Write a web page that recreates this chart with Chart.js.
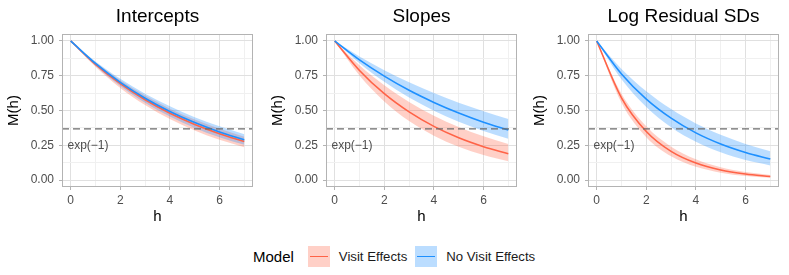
<!DOCTYPE html>
<html>
<head>
  <title>M(h) decay</title>
  <script src="https://cdn.jsdelivr.net/npm/chart.js"></script>
  <style>
    body { margin: 0; background: #fff; font-family: "Liberation Sans", Arial, sans-serif; }
    #wrap { position: relative; width: 789px; height: 275px; }
    .panel { position: absolute; top: 0; width: 263px; height: 232px; }
    #legend { position: absolute; top: 245px; left: 253px; height: 22px; display: flex; align-items: center; color: #1a1a1a; }
    #legend .ttl { font-size: 15px; color: #000; margin-right: 14px; }
    #legend .key { position: relative; width: 22px; height: 21px; margin-right: 9px; }
    #legend .key i { position: absolute; left: 2px; right: 2px; top: 10px; height: 1.6px; }
    #legend .lab { font-size: 13.2px; margin-right: 8px; }
  </style>
</head>
<body>
  <div id="wrap">
    <div class="panel" style="left:0px"><canvas id="c1"></canvas></div>
    <div class="panel" style="left:264px"><canvas id="c2"></canvas></div>
    <div class="panel" style="left:526px"><canvas id="c3"></canvas></div>
    <div id="legend">
      <span class="ttl">Model</span>
      <span class="key" style="background:rgba(255,99,71,0.3)"><i style="background:#ff6347"></i></span>
      <span class="lab">Visit Effects</span>
      <span class="key" style="background:rgba(30,144,255,0.3)"><i style="background:#1e90ff"></i></span>
      <span class="lab">No Visit Effects</span>
    </div>
  </div>
<script>
  // lag h
  var hVals = [0, 1, 2, 3, 4, 5, 6, 7];

  // Intercepts
  var intVisitMid   = [1, 0.832, 0.693, 0.577, 0.480, 0.400, 0.333, 0.277];
  var intVisitLo    = [1, 0.814, 0.662, 0.539, 0.438, 0.357, 0.290, 0.236];
  var intVisitHi    = [1, 0.846, 0.717, 0.607, 0.513, 0.435, 0.368, 0.311];
  var intNoVisitMid = [1, 0.838, 0.702, 0.588, 0.493, 0.413, 0.346, 0.290];
  var intNoVisitLo  = [1, 0.822, 0.676, 0.555, 0.456, 0.375, 0.308, 0.253];
  var intNoVisitHi  = [1, 0.853, 0.728, 0.621, 0.530, 0.452, 0.386, 0.329];

  // Slopes
  var slpVisitMid   = [1, 0.788, 0.621, 0.490, 0.386, 0.304, 0.240, 0.189];
  var slpVisitLo    = [1, 0.751, 0.565, 0.424, 0.319, 0.240, 0.180, 0.135];
  var slpVisitHi    = [1, 0.825, 0.681, 0.562, 0.463, 0.382, 0.315, 0.260];
  var slpNoVisitMid = [1, 0.864, 0.747, 0.645, 0.558, 0.482, 0.416, 0.360];
  var slpNoVisitLo  = [1, 0.840, 0.706, 0.593, 0.499, 0.419, 0.352, 0.296];
  var slpNoVisitHi  = [1, 0.889, 0.790, 0.703, 0.625, 0.555, 0.494, 0.439];

  // Log Residual SDs
  var sdVisitMid   = [1, 0.591, 0.349, 0.206, 0.122, 0.072, 0.043, 0.025];
  var sdVisitLo    = [1, 0.555, 0.308, 0.171, 0.095, 0.053, 0.029, 0.016];
  var sdVisitHi    = [1, 0.621, 0.386, 0.240, 0.149, 0.092, 0.057, 0.036];
  var sdNoVisitMid = [1, 0.763, 0.582, 0.445, 0.339, 0.259, 0.198, 0.151];
  var sdNoVisitLo  = [1, 0.724, 0.525, 0.380, 0.275, 0.199, 0.144, 0.105];
  var sdNoVisitHi  = [1, 0.799, 0.638, 0.510, 0.407, 0.325, 0.260, 0.207];

  var refLevel = 0.3679; // exp(-1)
  var xLimits = [-0.35, 7.35];
  var yLimits = [-0.05, 1.05];

  var RED = "#ff6347", RED_FILL = "rgba(255,99,71,0.3)";
  var BLUE = "#1e90ff", BLUE_FILL = "rgba(30,144,255,0.3)";
  var FONT = "'Liberation Sans', Arial, sans-serif";

  function pts(ys) {
    return hVals.map(function (h, i) { return { x: h, y: ys[i] }; });
  }

  var panelDeco = {
    id: "panelDeco",
    afterDatasetsDraw: function (chart) {
      var ctx = chart.ctx, a = chart.chartArea;
      var xs = chart.scales.x, ys = chart.scales.y;
      ctx.save();
      // annotation
      ctx.fillStyle = "#4d4d4d";
      ctx.font = "12px " + FONT;
      ctx.textAlign = "left";
      ctx.textBaseline = "middle";
      ctx.fillText("exp(\u22121)", xs.getPixelForValue(-0.13), ys.getPixelForValue(0.25));
      // panel border
      ctx.strokeStyle = "#b3b3b3";
      ctx.lineWidth = 1;
      ctx.strokeRect(a.left + 0.5, a.top + 0.5, a.right - a.left - 1, a.bottom - a.top - 1);
      ctx.restore();
      // title
      ctx.save();
      ctx.fillStyle = "#000";
      ctx.font = "19px " + FONT;
      ctx.textAlign = "center";
      ctx.textBaseline = "middle";
      ctx.fillText(chart.options.panelTitle, (a.left + a.right) / 2, 17);
      ctx.restore();
    }
  };

  function makePanel(id, title, v, nv) {
    var lineBase = { pointRadius: 0, borderWidth: 1.6, fill: false, cubicInterpolationMode: "monotone" };
    var datasets = [
      Object.assign({}, lineBase, { label: "ref", data: [{ x: xLimits[0], y: refLevel }, { x: xLimits[1], y: refLevel }], borderColor: "#6b6b6b", borderWidth: 1.4, borderDash: [7, 4], order: 0 }),
      Object.assign({}, lineBase, { label: "noVisitMid", data: pts(nv[0]), borderColor: BLUE, order: 1 }),
      Object.assign({}, lineBase, { label: "visitMid", data: pts(v[0]), borderColor: RED, order: 2 }),
      Object.assign({}, lineBase, { label: "noVisitLo", data: pts(nv[1]), borderWidth: 0, borderColor: "transparent", order: 4 }),
      Object.assign({}, lineBase, { label: "noVisitHi", data: pts(nv[2]), borderWidth: 0, borderColor: "transparent", backgroundColor: BLUE_FILL, fill: 3, order: 3 }),
      Object.assign({}, lineBase, { label: "visitLo", data: pts(v[1]), borderWidth: 0, borderColor: "transparent", order: 6 }),
      Object.assign({}, lineBase, { label: "visitHi", data: pts(v[2]), borderWidth: 0, borderColor: "transparent", backgroundColor: RED_FILL, fill: 5, order: 5 })
    ];

    return new Chart(document.getElementById(id), {
      type: "line",
      data: { datasets: datasets },
      options: {
        panelTitle: title,
        responsive: true,
        maintainAspectRatio: false,
        animation: false,
        layout: { padding: { top: 34, right: 10, bottom: 0, left: 0 } },
        plugins: { legend: { display: false }, tooltip: { enabled: false } },
        scales: {
          x: {
            type: "linear",
            min: xLimits[0], max: xLimits[1],
            afterBuildTicks: function (s) { s.ticks = hVals.map(function (h) { return { value: h }; }); },
            afterFit: function (s) { s.height = 45; },
            ticks: {
              color: "#4d4d4d", font: { size: 12, family: FONT }, padding: 3, maxRotation: 0,
              callback: function (v) { return v % 2 === 0 ? String(v) : ""; }
            },
            grid: {
              color: function (c) { return c.tick && c.tick.value % 2 === 0 ? "#e0e0e0" : "#f0f0f0"; },
              tickColor: function (c) { return c.tick && c.tick.value % 2 === 0 ? "#b3b3b3" : "rgba(0,0,0,0)"; },
              tickLength: 3, lineWidth: 1
            },
            border: { display: false },
            title: { display: true, text: "h", color: "#000", font: { size: 15, family: FONT }, padding: { top: 0, bottom: 6 } }
          },
          y: {
            type: "linear",
            min: yLimits[0], max: yLimits[1],
            afterBuildTicks: function (s) {
              var t = [];
              for (var k = 0; k <= 8; k++) t.push({ value: k * 0.125 });
              s.ticks = t;
            },
            afterFit: function (s) { s.width = 62; },
            ticks: {
              color: "#4d4d4d", font: { size: 12, family: FONT }, padding: 5,
              callback: function (v) { return (v * 4) % 1 === 0 ? v.toFixed(2) : ""; }
            },
            grid: {
              color: function (c) { return c.tick && (c.tick.value * 4) % 1 === 0 ? "#e0e0e0" : "#f0f0f0"; },
              tickColor: function (c) { return c.tick && (c.tick.value * 4) % 1 === 0 ? "#b3b3b3" : "rgba(0,0,0,0)"; },
              tickLength: 3, lineWidth: 1
            },
            border: { display: false },
            title: { display: true, text: "M(h)", color: "#000", font: { size: 15, family: FONT }, padding: { top: 5, bottom: 0 } }
          }
        }
      },
      plugins: [panelDeco]
    });
  }

  makePanel("c1", "Intercepts", [intVisitMid, intVisitLo, intVisitHi], [intNoVisitMid, intNoVisitLo, intNoVisitHi]);
  makePanel("c2", "Slopes", [slpVisitMid, slpVisitLo, slpVisitHi], [slpNoVisitMid, slpNoVisitLo, slpNoVisitHi]);
  makePanel("c3", "Log Residual SDs", [sdVisitMid, sdVisitLo, sdVisitHi], [sdNoVisitMid, sdNoVisitLo, sdNoVisitHi]);
</script>
</body>
</html>
